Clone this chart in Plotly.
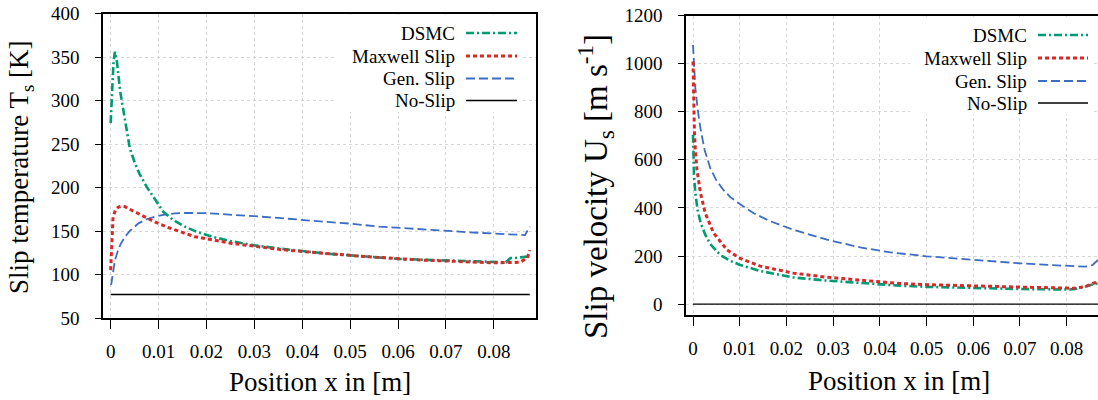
import plotly.graph_objects as go

# ---------------- data: left panel (slip temperature) ----------------
xT_dsmc = [0.0, 0.0003, 0.0006, 0.0009, 0.0013, 0.002, 0.003, 0.004, 0.005, 0.006, 0.0075, 0.009, 0.011,
           0.013, 0.0155, 0.018, 0.0215, 0.025, 0.03, 0.035, 0.04, 0.045, 0.05, 0.055, 0.06, 0.065, 0.07,
           0.075, 0.08, 0.0825, 0.0835, 0.0845, 0.086, 0.0875]
T_dsmc = [274, 315, 345, 356, 345, 310, 275, 245, 229, 216, 201, 188, 172,
          163, 155, 149, 143, 138.5, 133.5, 130, 127, 124, 122, 120, 118, 117, 116,
          115, 114, 114, 119, 119, 120, 121]

xT_max = [0.0, 0.0002, 0.0005, 0.001, 0.0016, 0.0023, 0.003, 0.004, 0.0055, 0.0072, 0.009, 0.012, 0.015,
          0.0176, 0.0214, 0.025, 0.03, 0.035, 0.04, 0.045, 0.05, 0.055, 0.06, 0.065, 0.07, 0.075, 0.08,
          0.0854, 0.087, 0.0875]
T_max = [105, 140, 166, 174, 177.5, 178.6, 178, 175, 171, 166, 161, 154, 148,
         143.4, 139.6, 136, 132.5, 129, 126.5, 124, 122, 120, 118, 116.5, 115.5, 114.5, 113.5,
         114, 119, 128]

xT_gen = [0.0001, 0.0005, 0.0009, 0.0015, 0.002, 0.003, 0.004, 0.0058, 0.0075, 0.0092, 0.011, 0.0134, 0.016,
          0.02, 0.025, 0.03, 0.035, 0.04, 0.045, 0.05, 0.056, 0.062, 0.069, 0.075, 0.08, 0.0865, 0.0875]
T_gen = [88, 104, 116.6, 127, 134, 143.4, 150, 158.8, 163.5, 166.4, 168.5, 170.3, 170.8,
         170.5, 169, 167, 165, 162.5, 160.5, 158.5, 155, 153, 150.3, 148.5, 147, 145.3, 155]

xT_noslip = [0.0, 0.0875]
T_noslip = [77, 77]

# ---------------- data: right panel (slip velocity) ----------------
xU_dsmc = [0.0, 0.00005, 0.0002, 0.0005, 0.001, 0.0016, 0.0026, 0.0037, 0.0058, 0.008, 0.0101, 0.0144,
           0.0215, 0.0287, 0.0358, 0.0443, 0.05, 0.06, 0.07, 0.08, 0.0815, 0.083, 0.0845, 0.0855, 0.0867]
U_dsmc = [704, 610, 540, 461, 390, 340, 290, 250, 205, 180, 163, 138,
          111, 98, 88, 77, 72, 66, 63, 61, 62, 68, 76, 84, 88]

xU_max = [0.0, 0.0001, 0.0003, 0.0005, 0.00085, 0.0016, 0.0026, 0.0044, 0.0073, 0.0101, 0.0144, 0.0215,
          0.0287, 0.0358, 0.0443, 0.05, 0.06, 0.07, 0.08, 0.0815, 0.083, 0.0845, 0.0855, 0.0867]
U_max = [1009, 860, 720, 640, 558, 462, 380, 296, 225, 190, 158, 129,
         112, 100, 86, 81, 75, 71, 67, 66, 70, 77, 86, 92]

xU_gen = [0.0, 0.0002, 0.0005, 0.001, 0.0016, 0.0025, 0.0037, 0.005, 0.0065, 0.008, 0.0101, 0.013, 0.0165,
          0.0215, 0.0287, 0.0358, 0.042, 0.05, 0.055, 0.06, 0.065, 0.07, 0.075, 0.08, 0.084, 0.0855, 0.0867]
U_gen = [1078, 985, 900, 810, 730, 640, 565, 515, 475, 445, 415, 378, 345,
         309, 268, 236, 216, 199, 191, 184, 177, 170, 164, 159, 156, 162, 184]

xU_noslip = [0.0, 0.0867]
U_noslip = [0, 0]

# ---------------- ticks / labels ----------------
x_tickvals = [0, 0.01, 0.02, 0.03, 0.04, 0.05, 0.06, 0.07, 0.08]
x_ticktext = ["0", "0.01", "0.02", "0.03", "0.04", "0.05", "0.06", "0.07", "0.08"]
T_tickvals = [50, 100, 150, 200, 250, 300, 350, 400]
U_tickvals = [0, 200, 400, 600, 800, 1000, 1200]
series_names = ["DSMC", "Maxwell Slip", "Gen. Slip", "No-Slip"]

# ---------------- styles ----------------
FONT = "Liberation Serif, Times New Roman, serif"
styles = [
    dict(color="#009B72", width=2.6, dash="8px,3px,2px,3px"),
    dict(color="#D62A2A", width=3.0, dash="4px,3px"),
    dict(color="#3C6DC2", width=1.8, dash="9px,4px"),
    dict(color="#000000", width=1.3, dash="solid"),
]

W, H = 1098, 400
fig = go.Figure()

left_sets = [(xT_dsmc, T_dsmc), (xT_max, T_max), (xT_gen, T_gen), (xT_noslip, T_noslip)]
right_sets = [(xU_dsmc, U_dsmc), (xU_max, U_max), (xU_gen, U_gen), (xU_noslip, U_noslip)]

order = [3, 2, 0, 1]
for i in order:
    xs, ys = left_sets[i]
    fig.add_trace(go.Scatter(x=xs, y=ys, mode="lines", name=series_names[i], line=styles[i],
                             showlegend=False, xaxis="x", yaxis="y"))
for i in order:
    xs, ys = right_sets[i]
    fig.add_trace(go.Scatter(x=xs, y=ys, mode="lines", name=series_names[i], line=styles[i],
                             showlegend=False, xaxis="x2", yaxis="y2"))

def px(xp):
    return xp / W

def py(yp):
    return 1 - yp / H

axis_common = dict(
    showline=True, linecolor="black", linewidth=1.5,
    showgrid=True, gridcolor="#d6d6d6", gridwidth=1, griddash="dot",
    zeroline=False, ticks="outside", tickcolor="black", tickwidth=1.2,
    automargin=False,
    tickfont=dict(family=FONT, size=19, color="black"),
)

fig.update_layout(
    template="none",
    width=W, height=H, autosize=False,
    margin=dict(l=0, r=0, t=0, b=0, pad=0),
    paper_bgcolor="white", plot_bgcolor="white",
    xaxis=dict(domain=[px(103), px(536)], range=[-0.0016, 0.0888], anchor="y",
               tickvals=x_tickvals, ticktext=x_ticktext, ticklen=9, mirror=True,
               ticklabelstandoff=6, **axis_common),
    yaxis=dict(domain=[py(318), py(13.5)], range=[50, 400], anchor="x",
               tickvals=T_tickvals, ticklen=6, mirror=True,
               ticklabelstandoff=12, **axis_common),
    xaxis2=dict(domain=[px(686), 1.0], range=[-0.0015, 0.0867], anchor="y2",
                tickvals=x_tickvals, ticktext=x_ticktext, ticklen=9, mirror=True,
                ticklabelstandoff=6, **axis_common),
    yaxis2=dict(domain=[py(315), py(15.5)], range=[-45, 1200], anchor="x2",
                tickvals=U_tickvals, ticklen=6, mirror=False,
                ticklabelstandoff=12, **axis_common),
)

annotations = []
shapes = []

# axis titles
title_font = dict(family=FONT, size=27, color="black")
annotations.append(dict(text="Position x in [m]", x=px(319.5), y=py(382), xref="paper", yref="paper",
                        showarrow=False, xanchor="center", yanchor="middle", font=title_font))
annotations.append(dict(text="Position x in [m]", x=px(899), y=py(381), xref="paper", yref="paper",
                        showarrow=False, xanchor="center", yanchor="middle", font=title_font))
annotations.append(dict(text="Slip temperature T<sub>s</sub> [K]", x=px(21), y=py(167), xref="paper",
                        yref="paper", showarrow=False, textangle=-90, xanchor="center", yanchor="middle",
                        font=title_font))
annotations.append(dict(text="Slip velocity U<sub>s</sub> [m s<sup>-1</sup>]", x=px(595), y=py(187),
                        xref="paper", yref="paper", showarrow=False, textangle=-90, xanchor="center",
                        yanchor="middle", font=dict(family=FONT, size=33, color="black")))

# legend boxes (white, drawn over the grid; curves never enter these areas)
shapes.append(dict(type="rect", xref="paper", yref="paper",
                   x0=px(335), x1=px(521), y0=py(112), y1=py(15),
                   fillcolor="white", line=dict(width=0), layer="above"))
shapes.append(dict(type="rect", xref="paper", yref="paper",
                   x0=px(910), x1=px(1093), y0=py(114), y1=py(17),
                   fillcolor="white", line=dict(width=0), layer="above"))

legend_font = dict(family=FONT, size=19, color="black")
left_rows = [33, 56, 78.5, 100.5]
right_rows = [35, 58, 81, 103]
for (text_end, l0, l1, rows) in [(457, 466, 517, left_rows), (1029, 1038, 1088, right_rows)]:
    for i, name in enumerate(series_names):
        yr = rows[i]
        annotations.append(dict(text=name, x=px(text_end), y=py(yr), xref="paper", yref="paper",
                                showarrow=False, xanchor="right", yanchor="middle", font=legend_font))
        shapes.append(dict(type="line", xref="paper", yref="paper", x0=px(l0), x1=px(l1),
                           y0=py(yr), y1=py(yr), line=styles[i], layer="above"))

fig.update_layout(annotations=annotations, shapes=shapes)

fig.write_html("out.html")
